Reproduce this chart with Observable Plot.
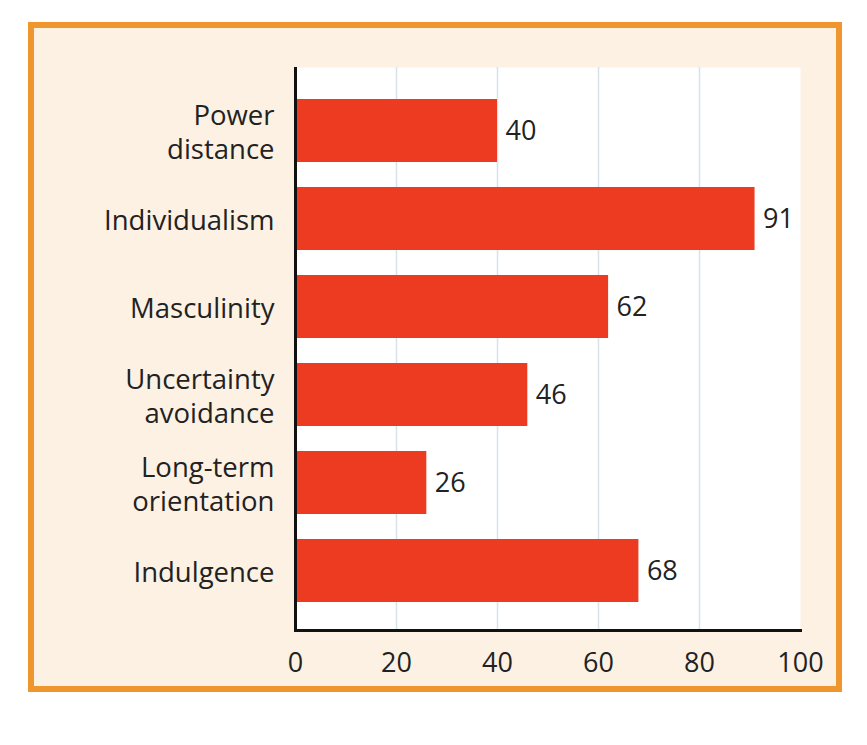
<!DOCTYPE html>
<html>
<head>
<meta charset="utf-8">
<script src="https://cdn.jsdelivr.net/npm/d3@7"></script>
<script src="https://cdn.jsdelivr.net/npm/@observablehq/plot@0.6"></script>
<style>
  html, body { margin: 0; padding: 0; background: #ffffff; }
  #box {
    position: absolute; left: 28px; top: 22px; width: 814px; height: 670px;
    box-sizing: border-box; border: 6px solid #f0962e; background: #fcf1e3;
  }
  #chart { position: absolute; left: 0; top: 0; }
  #chart svg { background: transparent; }
</style>
</head>
<body>
<div id="box"></div>
<div id="chart"></div>
<script>
const categories = ["Power\ndistance", "Individualism", "Masculinity", "Uncertainty\navoidance", "Long-term\norientation", "Indulgence"];
const values = [40, 91, 62, 46, 26, 68];
const xTicks = [0, 20, 40, 60, 80, 100];
const gridTicks = [20, 40, 60, 80];

const data = categories.map((c, i) => ({category: c, value: values[i]}));

const chart = Plot.plot({
  width: 867,
  height: 745,
  marginLeft: 295,
  marginRight: 67,
  marginTop: 67,
  marginBottom: 115,
  style: {fontFamily: "'Open Sans', sans-serif", color: "#222", background: "transparent"},
  x: {domain: [0, 100]},
  y: {domain: categories, paddingInner: 0.28, paddingOuter: 0.14, insetTop: 20, insetBottom: 15},
  marks: [
    Plot.frame({fill: "#ffffff", stroke: null}),
    Plot.ruleX(gridTicks, {stroke: "#d6e4ea", strokeWidth: 1.5}),
    Plot.barX(data, {x: "value", y: "category", fill: "#ec3b20"}),
    Plot.text(data, {x: "value", y: "category", text: d => String(d.value), dx: 8, textAnchor: "start", fontSize: 27, fill: "#222"}),
    Plot.ruleX([0], {stroke: "#111", strokeWidth: 3}),
    Plot.frame({anchor: "bottom", stroke: "#111", strokeWidth: 3}),
    Plot.axisY({tickSize: 0, tickPadding: 21, fontSize: 27.5, label: null, lineHeight: 1.22, fill: "#222"}),
    Plot.axisX({ticks: xTicks, tickSize: 0, tickPadding: 22, fontSize: 27, label: null, fill: "#222", tickFormat: d => String(d)})
  ]
});
document.getElementById("chart").appendChild(chart);
</script>
</body>
</html>
